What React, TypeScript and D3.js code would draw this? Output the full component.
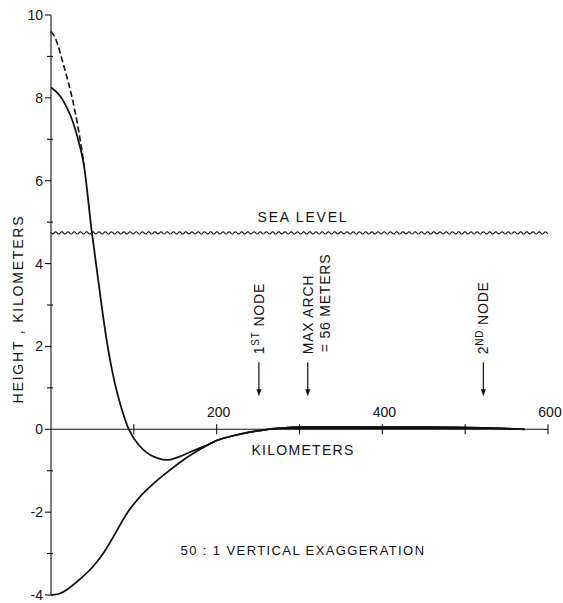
import React from 'react';
import * as d3 from 'd3';

// Flexural profile across the plate (distance in km, height in km)
const lowerKm = [0, 10, 20, 36, 50, 64, 78, 92, 106, 121, 140, 164, 180, 190, 200, 221, 240, 262, 280, 300, 315, 350, 400, 450, 490, 520, 545, 565, 572];
const lowerHeight = [-4.0, -3.97, -3.86, -3.6, -3.33, -2.97, -2.5, -2.02, -1.66, -1.36, -1.04, -0.68, -0.48, -0.37, -0.27, -0.15, -0.07, 0.0, 0.03, 0.05, 0.056, 0.055, 0.053, 0.05, 0.045, 0.036, 0.022, 0.006, 0.0];

// Load profile (topography) until it merges with the flexure
const upperKm = [0, 10, 24, 36, 40, 49, 56, 62, 68, 75, 83, 94, 106, 120, 140, 155, 170];
const upperHeight = [8.25, 8.07, 7.55, 6.74, 6.34, 4.81, 3.75, 2.85, 2.05, 1.3, 0.65, 0.0, -0.38, -0.62, -0.74, -0.66, -0.53];

// Dashed original summit outline
const dashedKm = [0, 5, 16, 26, 36, 40];
const dashedHeight = [9.6, 9.45, 8.73, 7.96, 6.9, 6.34];

const seaLevel = 4.74;

const yMajorTicks = [-4, -2, 0, 2, 4, 6, 8, 10];
const yTickLabels = ['-4', '-2', '0', '2', '4', '6', '8', '10'];
const yMinorTicks = [-3, -1, 1, 3, 5, 7, 9];
const xTicks = [100, 200, 300, 400, 500, 600];
const xLabelTicks = [200, 400, 600];

const nodeMarks = [
  { km: 251, main: '1', sup: 'ST', rest: ' NODE' },
  { km: 310, main: 'MAX ARCH', sup: '', rest: '' },
  { km: 522, main: '2', sup: 'ND', rest: ' NODE' },
];

const FONT = '"Liberation Sans", Arial, sans-serif';

export default function App() {
  const x = d3.scaleLinear().domain([0, 600]).range([51, 548]);
  const y = d3.scaleLinear().domain([-4, 10]).range([595, 15]);

  const line = d3
    .line<[number, number]>()
    .x((d) => x(d[0]))
    .y((d) => y(d[1]))
    .curve(d3.curveCatmullRom.alpha(0.5));

  const lowerPts: [number, number][] = lowerKm.map((k, i) => [k, lowerHeight[i]]);
  const upperPts: [number, number][] = upperKm
    .map((k, i) => [k, upperHeight[i]] as [number, number])
    .concat(lowerPts.filter((p) => p[0] >= 190));
  const dashedPts: [number, number][] = dashedKm.map((k, i) => [k, dashedHeight[i]]);
  const archPts = lowerPts.filter((p) => p[0] >= 262);

  const area = d3
    .area<[number, number]>()
    .x((d) => x(d[0]))
    .y0(() => y(0))
    .y1((d) => y(Math.max(0, d[1])))
    .curve(d3.curveCatmullRom.alpha(0.5));

  // wavy sea surface
  const wave: [number, number][] = [];
  const x0 = x(0), x1 = x(600), ys = y(seaLevel);
  for (let px = x0; px <= x1; px += 0.5) {
    wave.push([px, ys + 1.1 * Math.sin(((px - x0) / 6.2) * 2 * Math.PI)]);
  }
  const waveLine = d3.line<[number, number]>().x((d) => d[0]).y((d) => d[1]);

  const y0 = y(0);
  const ax = x(0);
  const arrowTop = y0 - 67;
  const arrowBot = y0 - 33;
  const textStart = y0 - 75;

  return (
    <svg
      width={563}
      height={603}
      style={{ position: 'absolute', left: 0, top: 0, background: '#fff' }}
      fontFamily={FONT}
    >
      <rect width={563} height={603} fill="#fff" />
      {/* axes */}
      <line x1={ax} x2={ax} y1={y(10)} y2={y(-4)} stroke="#111" strokeWidth={1.1} />
      <line x1={ax} x2={x(600)} y1={y0} y2={y0} stroke="#111" strokeWidth={1.1} />
      {yMajorTicks.map((t, i) => (
        <g key={'ym' + t}>
          <line x1={ax - 6} x2={ax} y1={y(t)} y2={y(t)} stroke="#111" strokeWidth={1.1} />
          <text x={ax - 8} y={y(t) + 5} fontSize={14} textAnchor="end" fill="#111">
            {yTickLabels[i]}
          </text>
        </g>
      ))}
      {yMinorTicks.map((t) => (
        <line key={'yn' + t} x1={ax - 4} x2={ax + 2} y1={y(t)} y2={y(t)} stroke="#111" strokeWidth={1.1} />
      ))}
      {xTicks.map((t) => (
        <line key={'xt' + t} x1={x(t)} x2={x(t)} y1={y0 - 5} y2={y0 + 5} stroke="#111" strokeWidth={1.1} />
      ))}
      {xLabelTicks.map((t) => (
        <text key={'xl' + t} x={x(t) + 2} y={y0 - 12} fontSize={14} textAnchor="middle" fill="#111">
          {t}
        </text>
      ))}

      {/* sea level */}
      <path d={waveLine(wave) ?? ''} fill="none" stroke="#111" strokeWidth={1.1} />
      <text x={303} y={ys - 11} fontSize={14} textAnchor="middle" letterSpacing={1.8} fill="#111">
        SEA  LEVEL
      </text>

      {/* profiles */}
      <path d={area(archPts) ?? ''} fill="#111" />
      <path d={line(lowerPts) ?? ''} fill="none" stroke="#111" strokeWidth={1.8} />
      <path d={line(upperPts) ?? ''} fill="none" stroke="#111" strokeWidth={1.8} />
      <path d={line(dashedPts) ?? ''} fill="none" stroke="#111" strokeWidth={1.6} strokeDasharray="6 3" />

      {/* node annotations */}
      {nodeMarks.map((n) => {
        const nx = x(n.km);
        return (
          <g key={'n' + n.km}>
            <line x1={nx} x2={nx} y1={arrowTop} y2={arrowBot - 5} stroke="#111" strokeWidth={1.2} />
            <path d={`M${nx - 2.5},${arrowBot - 7} L${nx + 2.5},${arrowBot - 7} L${nx},${arrowBot} Z`} fill="#111" />
            <text
              transform={`translate(${nx + 5},${textStart}) rotate(-90)`}
              fontSize={14}
              letterSpacing={0.8}
              fill="#111"
            >
              {n.main}
              {n.sup && (
                <tspan fontSize={10} dy={-5}>
                  {n.sup}
                </tspan>
              )}
              {n.rest && <tspan dy={5}>{n.rest}</tspan>}
            </text>
          </g>
        );
      })}
      <text
        transform={`translate(${x(310) + 22},${textStart - 2}) rotate(-90)`}
        fontSize={14}
        letterSpacing={0.8}
        fill="#111"
      >
        = 56 METERS
      </text>

      {/* axis titles */}
      <text x={303} y={y0 + 26} fontSize={14} textAnchor="middle" letterSpacing={1.3} fill="#111">
        KILOMETERS
      </text>
      <text
        transform={`translate(23,309) rotate(-90)`}
        fontSize={14}
        textAnchor="middle"
        letterSpacing={1.8}
        fill="#111"
      >
        HEIGHT , KILOMETERS
      </text>
      <text x={303} y={555} fontSize={13} textAnchor="middle" letterSpacing={1.4} fill="#111">
        50 : 1  VERTICAL  EXAGGERATION
      </text>
    </svg>
  );
}
